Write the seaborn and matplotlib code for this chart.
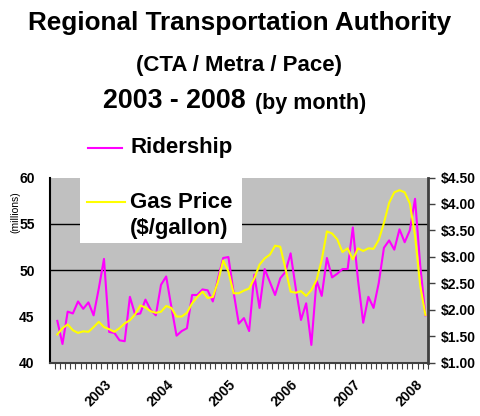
import numpy as np
import matplotlib
matplotlib.use("Agg")
import matplotlib.pyplot as plt
from matplotlib.lines import Line2D
from matplotlib.patches import Rectangle
import seaborn as sns

# Monthly data (millions of riders, $/gallon)
ridership = [44.5, 42.0, 45.5, 45.3, 46.6, 45.8, 46.5, 45.1, 48.0, 51.2, 43.3, 43.2,
             42.4, 42.3, 47.1, 45.2, 45.3, 46.8, 45.7, 45.1, 48.4, 49.3, 46.0, 42.9,
             43.4, 43.7, 47.3, 47.3, 47.9, 47.8, 46.6, 49.1, 51.3, 51.4, 47.6, 44.2,
             44.8, 43.4, 49.5, 45.9, 50.1, 48.7, 47.3, 49.1, 49.8, 51.8, 48.0, 44.6,
             46.4, 41.9, 48.9, 47.2, 51.3, 49.2, 49.6, 50.1, 50.1, 54.6, 48.9, 44.3,
             47.1, 45.9, 48.6, 52.4, 53.2, 52.2, 54.4, 53.0, 54.3, 57.7, 50.5, 45.1]
gas_price = [1.53, 1.65, 1.72, 1.61, 1.56, 1.59, 1.58, 1.67, 1.77, 1.67, 1.63, 1.58,
             1.65, 1.74, 1.80, 1.91, 2.08, 2.04, 1.97, 1.94, 1.96, 2.07, 2.03, 1.87,
             1.87, 1.94, 2.12, 2.24, 2.34, 2.22, 2.24, 2.53, 2.93, 2.72, 2.31, 2.31,
             2.36, 2.40, 2.59, 2.85, 2.97, 3.04, 3.21, 3.19, 2.78, 2.34, 2.32, 2.35,
             2.26, 2.37, 2.56, 2.94, 3.48, 3.44, 3.33, 3.09, 3.16, 2.95, 3.16, 3.11,
             3.16, 3.15, 3.32, 3.64, 4.02, 4.22, 4.26, 4.22, 4.01, 3.40, 2.45, 1.90]
year_labels = ["2003", "2004", "2005", "2006", "2007", "2008"]
left_ticks = [40, 45, 50, 55, 60]
right_ticks = [1.0, 1.5, 2.0, 2.5, 3.0, 3.5, 4.0, 4.5]

months = np.arange(len(ridership))

plt.rcParams["font.family"] = ["Liberation Sans", "DejaVu Sans"]
plt.rcParams["font.weight"] = "bold"

W, H = 480, 416
def fx(x):
    return x / W
def fy(y):
    return 1 - y / H

fig = plt.figure(figsize=(4.8, 4.16), dpi=100)
ax = fig.add_axes([fx(50), fy(362.5), 378 / W, 185 / H])
ax.set_facecolor("#C0C0C0")

for g in [50, 55]:
    ax.axhline(g, color="black", lw=1, zorder=1)

sns.lineplot(x=months, y=ridership, ax=ax, color="#FF00FF", lw=1.5, zorder=2)
ax.set_xlim(-1.41, 71.43)
ax.set_ylim(40, 60)
ax.set_yticks(left_ticks)
ax.set_yticklabels([str(t) for t in left_ticks], fontsize=10, fontweight="bold")
ax.tick_params(axis="y", length=0, pad=11)

ax2 = ax.twinx()
sns.lineplot(x=months, y=gas_price, ax=ax2, color="#FFFF00", lw=1.5)
ax2.set_ylim(1.0, 4.5)
ax2.set_yticks(right_ticks)
ax2.set_yticklabels(["$%.2f" % t for t in right_ticks], fontsize=10, fontweight="bold")
ax2.tick_params(axis="y", length=5, width=1, color="#404040", pad=4)

ax.set_xlabel("")
ax.set_ylabel("")
ax2.set_ylabel("")

# year labels and monthly tick marks
ax.set_xticks([10 + 12 * k for k in range(len(year_labels))])
ax.set_xticklabels(year_labels, rotation=45, ha="right", va="center",
                   rotation_mode="anchor", fontsize=10, fontweight="bold")
ax.set_xticks(np.arange(-0.5, 72, 1), minor=True)
ax.tick_params(axis="x", which="major", length=0, pad=14)
ax.tick_params(axis="x", which="minor", length=4, width=0.8, color="#404040")

for a in (ax, ax2):
    a.spines["top"].set_visible(False)
ax.spines["left"].set_color("black")
ax.spines["left"].set_linewidth(1.5)
ax.spines["bottom"].set_color("#404040")
ax.spines["bottom"].set_linewidth(1.5)
ax2.spines["right"].set_color("#404040")
ax2.spines["right"].set_linewidth(2)
ax2.spines["left"].set_visible(False)
ax2.spines["bottom"].set_visible(False)

# titles
fig.text(0.5, fy(23), "Regional Transportation Authority", ha="center", va="center",
         fontsize=18.8, fontweight="bold")
fig.text(fx(239), fy(66), "(CTA / Metra / Pace)", ha="center", va="center",
         fontsize=16, fontweight="bold")
fig.text(fx(103), fy(101), "2003 - 2008", ha="left", va="center",
         fontsize=19.3, fontweight="bold")
fig.text(fx(255), fy(103), "(by month)", ha="left", va="center",
         fontsize=15.5, fontweight="bold")
fig.text(fx(15), fy(212), "(millions)", rotation=90, ha="center", va="center",
         fontsize=7.5, fontweight="normal")

# legend
fig.add_artist(Rectangle((fx(80), fy(243)), 162 / W, (243 - 130) / H,
                         transform=fig.transFigure, facecolor="white",
                         edgecolor="none", zorder=5))
fig.add_artist(Line2D([fx(88), fx(122)], [fy(148), fy(148)], color="#FF00FF", lw=1.5,
                      transform=fig.transFigure, zorder=6))
fig.add_artist(Line2D([fx(87), fx(125)], [fy(202), fy(202)], color="#FFFF00", lw=1.5,
                      transform=fig.transFigure, zorder=6))
fig.text(fx(130), fy(148), "Ridership", ha="left", va="center", fontsize=16,
         fontweight="bold", zorder=7)
fig.text(fx(130), fy(202), "Gas Price", ha="left", va="center", fontsize=16,
         fontweight="bold", zorder=7)
fig.text(fx(130), fy(228), "($/gallon)", ha="left", va="center", fontsize=16,
         fontweight="bold", zorder=7)

fig.savefig("out.png", dpi=100)
